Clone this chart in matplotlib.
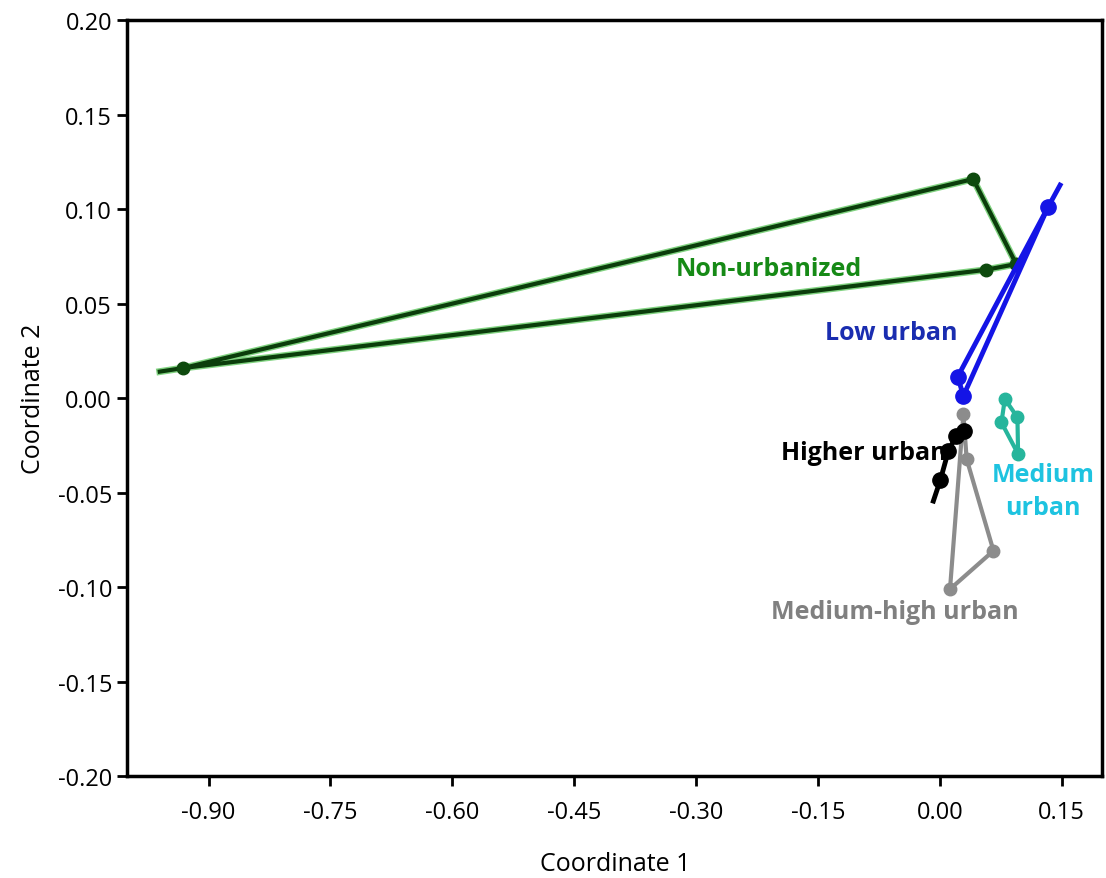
import matplotlib
matplotlib.use('Agg')
import matplotlib.pyplot as plt
import matplotlib.patheffects as pe

plt.rcParams['font.family'] = ['Open Sans', 'DejaVu Sans']
plt.rcParams['axes.unicode_minus'] = False

# Non-urbanized: tail point first (no marker), then closed polygon
non_x = [-0.960, -0.931, 0.041, 0.094, 0.057, -0.931]
non_y = [0.0140, 0.0159, 0.1159, 0.0709, 0.0679, 0.0159]

# Low urban: tail point first (no marker)
low_x = [0.148, 0.133, 0.022, 0.029, 0.133]
low_y = [0.1127, 0.1009, 0.0113, 0.0012, 0.1009]

# Medium-high urban (closed)
mh_x = [0.029, 0.033, 0.066, 0.0125, 0.029]
mh_y = [-0.0085, -0.0323, -0.0808, -0.1011, -0.0085]

# Higher urban: last point is the tail (no marker)
hi_x = [0.030, 0.020, 0.0105, 0.0006, -0.008]
hi_y = [-0.0175, -0.0201, -0.0280, -0.0434, -0.0545]

# Medium urban (closed)
med_x = [0.080, 0.0955, 0.0963, 0.0758, 0.080]
med_y = [-0.0005, -0.0102, -0.0296, -0.0129, -0.0005]

x_ticks = [-0.90, -0.75, -0.60, -0.45, -0.30, -0.15, 0.00, 0.15]
y_ticks = [0.20, 0.15, 0.10, 0.05, 0.00, -0.05, -0.10, -0.15, -0.20]

fig = plt.figure(figsize=(11.06, 8.79), dpi=100)
ax = fig.add_axes([0.1151, 0.116, 0.8816, 0.860])

# Non-urbanized
glow = [pe.Stroke(linewidth=5, foreground='#2bb52b', alpha=0.6), pe.Normal()]
ax.plot(non_x, non_y, color='#0b3d0b', lw=3, path_effects=glow, zorder=3)
ax.plot(non_x[1:5], non_y[1:5], 'o', color='#0e4a0e', ms=9, zorder=4)

# Low urban
ax.plot(low_x, low_y, color='#1414e6', lw=3.5, zorder=5)
ax.plot(low_x[1:4], low_y[1:4], 'o', color='#1414e6', ms=11, zorder=6)

# Medium-high urban
ax.plot(mh_x, mh_y, color='#8c8c8c', lw=3, zorder=3)
ax.plot(mh_x[:4], mh_y[:4], 'o', color='#8c8c8c', ms=9, zorder=3)

# Higher urban
ax.plot(hi_x, hi_y, color='black', lw=3.5, zorder=4)
ax.plot(hi_x[:4], hi_y[:4], 'o', color='black', ms=11, zorder=4)

# Medium urban
ax.plot(med_x, med_y, color='#26b59c', lw=3, zorder=3)
ax.plot(med_x[:4], med_y[:4], 'o', color='#26b59c', ms=9, zorder=3)

# group labels
lab = dict(fontsize=18, fontweight='bold', ha='center', va='center')
ax.text(-0.2105, 0.0683, 'Non-urbanized', color='#168a16', **lab)
ax.text(-0.0596, 0.0349, 'Low urban', color='#1a2db0', **lab)
ax.text(-0.0940, -0.0286, 'Higher urban', color='black', **lab)
ax.text(0.1269, -0.0492, 'Medium\nurban', color='#1ec3e0', linespacing=1.4, **lab)
ax.text(-0.0560, -0.1132, 'Medium-high urban', color='#808080', **lab)

ax.set_xlim(-1.0, 0.2)
ax.set_ylim(-0.20, 0.20)
ax.set_xticks(x_ticks)
ax.set_xticklabels([f'{v:.2f}' for v in x_ticks])
ax.set_yticks(y_ticks)
ax.set_yticklabels([f'{v:.2f}' for v in y_ticks])
ax.tick_params(labelsize=17, length=7, width=2)
ax.tick_params(axis='x', pad=10)
ax.tick_params(axis='y', pad=4)
for s in ax.spines.values():
    s.set_linewidth(2.5)

ax.set_xlabel('Coordinate 1', fontsize=18, labelpad=20)
ax.set_ylabel('Coordinate 2', fontsize=18, labelpad=8)

fig.savefig('out.png', dpi=100)
